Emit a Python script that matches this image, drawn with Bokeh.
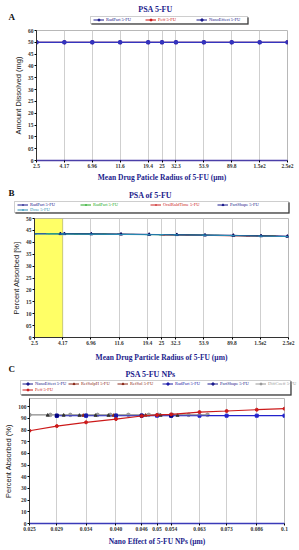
from bokeh.plotting import figure
from bokeh.layouts import column, row
from bokeh.models import Legend, LegendItem, FixedTicker, BoxAnnotation, Label, Range1d
from bokeh.embed import file_html
from bokeh.resources import INLINE

# ---------------- data ----------------
# Panel A
a_x = [2.5, 4.17, 6.96, 11.6, 19.4, 25, 32.3, 53.9, 89.8, 150, 250]
a_x_labels = ["2.5", "4.17", "6.96", "11.6", "19.4", "25", "32.3", "53.9", "89.8", "1.5e2", "2.5e2"]
a_radpart = [50, 50, 50, 50, 50, 50, 50, 50, 50, 50, 50]
a_peff = [50, 50, 50, 50, 50, 50, 50, 50, 50, 50, 50]
a_nano = [50, 50, 50, 50, 50, 50, 50, 50, 50, 50, 50]
a_y_ticks = [0, 5, 10, 15, 20, 25, 30, 35, 40, 45, 50, 55]
a_y_labels = ["0", "05", "10", "15", "20", "25", "30", "35", "40", "45", "50", "60"]
a_series = ["RadPart 5-FU", "Peff 5-FU", "NanoEffect 5-FU"]

# Panel B
b_x_ticks = [2.5, 4.17, 6.96, 11.6, 19.4, 25, 32.3, 53.9, 89.8, 150, 250]
b_x_labels = ["2.5", "4.17", "6.96", "11.6", "19.4", "25", "32.3", "53.9", "89.8", "1.5e2", "2.5e2"]
b_radpart_x = [2.5, 4.17, 6.96, 11.6, 19.4, 25, 32.3, 53.9, 89.8, 150, 250]
b_radpart_y = [43.6, 43.6, 43.5, 43.4, 43.3, 43.2, 43.2, 43.0, 42.9, 42.7, 42.5]
b_radpart2_x = [3.2, 5.3, 8.9, 14.8, 24.7, 41.2, 68.7, 115, 191]
b_radpart2_y = [43.6, 43.5, 43.4, 43.3, 43.2, 43.1, 42.9, 42.8, 42.6]
b_oral_x = [25.7, 39.9, 57.6, 120, 144, 200]
b_oral_y = [43.1, 43.0, 42.9, 42.6, 42.6, 42.5]
b_shape_x = [4.0, 4.3, 7.0, 12.0, 20.0, 33.0, 55.0, 92.0, 152.0, 245.0]
b_shape_y = [43.6, 43.6, 43.5, 43.4, 43.3, 43.2, 43.0, 42.9, 42.7, 42.5]
b_dose_x = [2.5, 4.17, 6.96, 11.6, 19.4, 25, 32.3, 53.9, 89.8, 150, 250]
b_dose_y = [43.5, 43.5, 43.4, 43.3, 43.2, 43.2, 43.1, 43.0, 42.8, 42.6, 42.4]
b_y_ticks = [0, 5, 10, 15, 20, 25, 30, 35, 40, 45, 50]
b_y_labels = ["0", "05", "10", "15", "20", "25", "30", "35", "40", "45", "50"]
b_band = [2.5, 4.17]
b_series = ["RadPart 5-FU", "RadPart 5-FU", "OralRaldTime 5-FU", "PartShape 5-FU", "Dose 5-FU"]

# Panel C
c_x_ticks = [0.025, 0.029, 0.034, 0.040, 0.046, 0.05, 0.054, 0.063, 0.073, 0.086, 0.1]
c_x_labels = ["0.025", "0.029", "0.034", "0.040", "0.046", "0.05", "0.054", "0.063", "0.073", "0.086", "0.1"]
c_peff_x = [0.025, 0.029, 0.034, 0.040, 0.046, 0.05, 0.054, 0.063, 0.073, 0.086, 0.1]
c_peff_y = [79.4, 83.4, 86.6, 89.4, 92.0, 92.9, 93.4, 95.4, 96.3, 97.4, 98.3]
c_nano_x = [0.029, 0.034, 0.040, 0.046, 0.05, 0.054, 0.063, 0.073, 0.086, 0.1]
c_nano_y = [92.3, 92.3, 92.3, 92.3, 92.3, 92.3, 92.3, 92.3, 92.3, 92.3]
c_diff_x = [0.025, 0.0280, 0.0312, 0.0362, 0.0388, 0.0428, 0.0478, 0.0504, 0.0544, 0.0594, 0.0658]
c_diff_y = [93.0, 93.0, 93.0, 93.0, 93.0, 93.0, 93.0, 93.0, 93.0, 93.0, 93.0]
c_refsolph_x = [0.0276, 0.0301, 0.0328, 0.0358, 0.0384, 0.0510, 0.0559]
c_refsolph_y = [92.6, 92.6, 92.5, 92.5, 92.5, 92.6, 92.5]
c_refsol_x = [0.0335, 0.0395, 0.0470]
c_refsol_y = [92.5, 92.5, 92.6]
c_radpart_x = [0.034, 0.040, 0.054]
c_radpart_y = [92.4, 92.4, 92.4]
c_shape_x = [0.029, 0.046, 0.054]
c_shape_y = [92.3, 92.4, 92.4]
c_y_ticks = [0, 10, 20, 30, 40, 50, 60, 70, 80, 90, 100]
c_y_labels = ["0", "10", "20", "30", "40", "50", "60", "70", "80", "90", "100"]
c_series = ["NanoEffect 5-FU", "RefSolpH 5-FU", "RefSol 5-FU", "RadPart 5-FU",
            "PartShape 5-FU", "DiffCoeff 5-FU", "Peff 5-FU"]

NAVY_T = "#1c1c8c"
SERIF = "Liberation Serif"
SANS = "Liberation Sans"
W = 299


def make_fig(xr, yr, fw, fh, left, right, top, bottom, title_standoff=2):
    p = figure(x_axis_type="log", x_range=Range1d(*xr), y_range=Range1d(*yr),
               frame_width=fw, frame_height=fh, output_backend="svg",
               toolbar_location=None, min_border_left=left, min_border_right=right,
               min_border_top=top, min_border_bottom=bottom)
    p.xgrid.grid_line_color = "#cfcfcf"
    p.ygrid.grid_line_color = None
    p.outline_line_color = "#b8b8b8"
    for ax in (p.xaxis[0], p.yaxis[0]):
        ax.major_label_text_font = SERIF
        ax.major_label_text_font_size = "5.5px"
        ax.major_label_text_font_style = "bold"
        ax.major_label_text_color = "#333333"
        ax.major_tick_in = 0
        ax.major_tick_out = 2
        ax.minor_tick_in = 0
        ax.minor_tick_out = 0
        ax.major_label_standoff = 1
        ax.axis_label_standoff = 2
        ax.axis_line_color = "#333333"
    p.xaxis.axis_label_standoff = title_standoff
    p.xaxis.axis_label_text_font = SERIF
    p.xaxis.axis_label_text_font_style = "bold"
    p.xaxis.axis_label_text_color = NAVY_T
    p.xaxis.axis_label_text_font_size = "7.5px"
    p.yaxis.axis_label_text_font = SANS
    p.yaxis.axis_label_text_font_style = "normal"
    p.yaxis.axis_label_text_font_size = "7.5px"
    p.yaxis.axis_label_text_color = "#222222"
    return p


def series(p, x, y, color, marker, lw=1.0, size=3.0):
    r1 = p.line(x, y, line_color=color, line_width=lw)
    r2 = p.scatter(x, y, marker=marker, size=size, fill_color=color, line_color=color)
    return [r1, r2]


def header(h, letter, letter_y, title, title_x, title_y, box, items):
    """items: list of (label, color, marker, x, y_center_from_top, xs, ys)."""
    p = figure(frame_width=W, frame_height=h, x_range=Range1d(0, W), y_range=Range1d(0, h),
               output_backend="svg", toolbar_location=None,
               x_axis_location=None, y_axis_location=None,
               min_border_left=0, min_border_right=0, min_border_top=0, min_border_bottom=0)
    p.grid.visible = False
    p.outline_line_color = None
    p.add_layout(Label(x=8, y=h - letter_y, text=letter, text_font=SERIF,
                       text_font_style="bold", text_font_size="9px",
                       text_baseline="bottom", text_color="#111111"))
    p.add_layout(Label(x=title_x, y=h - title_y, text=title, text_align="center",
                       text_baseline="middle", text_font=SERIF, text_font_style="bold",
                       text_font_size="8px", text_color=NAVY_T))
    x0, x1, y0, y1 = box
    p.add_layout(BoxAnnotation(left=x0 + 1, right=x1 + 1, top=h - y0 - 1, bottom=h - y1 - 1,
                               fill_color="#222222", fill_alpha=1, line_color="#222222",
                               line_width=0.5))
    p.add_layout(BoxAnnotation(left=x0, right=x1, top=h - y0, bottom=h - y1,
                               fill_color="white", fill_alpha=1, line_color="#333333",
                               line_width=0.8))
    for label, color, marker, x, yc, xs, ys in items:
        rl = p.line(x=xs[:1], y=ys[:1], line_color=color, line_width=1, visible=False)
        rs = p.scatter(x=xs[:1], y=ys[:1], marker=marker, size=3, fill_color=color,
                       line_color=color, visible=False)
        lg = Legend(items=[LegendItem(label=label, renderers=[rl, rs])],
                    location=(x, h - yc - 2.5), label_text_font=SERIF,
                    label_text_font_size="4.5px", label_text_color=color,
                    label_height=5, label_standoff=2, glyph_height=5, glyph_width=11,
                    padding=0, margin=0, spacing=0, border_line_color=None,
                    background_fill_alpha=0)
        p.add_layout(lg, "center")
    return p


# ---------------- Panel A ----------------
hA = header(28, "A", 21, "PSA 5-FU", 155, 9, (90, 247, 16, 23),
            [(a_series[0], "#1a1a8c", "circle", 93, 19.5, a_x, a_radpart),
             (a_series[1], "#cc1111", "circle", 145, 19.5, a_x, a_peff),
             (a_series[2], "#1a1a8c", "square", 196, 19.5, a_x, a_nano)])
pA = make_fig((2.5, 250), (0, 55), 251, 130, 36, 12, 2, 16)
series(pA, a_x, a_peff, "#cc1111", "circle")
series(pA, a_x, a_radpart, "#000080", "circle")
series(pA, a_x, a_nano, "#3535c0", "square", lw=1.2)
pA.xaxis.ticker = FixedTicker(ticks=a_x, minor_ticks=[])
pA.xaxis.major_label_overrides = dict(zip(a_x, a_x_labels))
pA.yaxis.ticker = FixedTicker(ticks=a_y_ticks, minor_ticks=[])
pA.yaxis.major_label_overrides = dict(zip(a_y_ticks, a_y_labels))
pA.xaxis.axis_label = "Mean Drug Paticle Radius of 5-FU (µm)"
pA.yaxis.axis_label = "Amount Dissolved (mg)"
pA.xaxis.axis_line_color = "#4b3fa8"
pA.xaxis.axis_line_width = 1.5

# ---------------- Panel B ----------------
hB = header(31, "B", 13, "PSA of 5-FU", 150, 11, (14, 288, 17, 28),
            [(b_series[0], "#1a1a8c", "dash", 17, 20, b_radpart_x, b_radpart_y),
             (b_series[1], "#22aa22", "dash", 80, 20, b_radpart2_x, b_radpart2_y),
             (b_series[2], "#cc2222", "dash", 150, 20, b_oral_x, b_oral_y),
             (b_series[3], "#1a1a8c", "triangle", 217, 20, b_shape_x, b_shape_y),
             (b_series[4], "#2a8fb8", "dash", 17, 25.5, b_dose_x, b_dose_y)])
pB = make_fig((2.5, 250), (0, 50), 254, 119, 34, 11, 3, 26, title_standoff=5)
pB.add_layout(BoxAnnotation(left=b_band[0], right=b_band[1], fill_color="#ffff66",
                            fill_alpha=1.0, line_color="#444444", line_width=0.8,
                            level="underlay"))
series(pB, b_radpart_x, b_radpart_y, "#000080", "dash", size=4)
series(pB, b_radpart2_x, b_radpart2_y, "#33cc33", "dash", size=4)
series(pB, b_oral_x, b_oral_y, "#cc2222", "dash", size=4)
series(pB, b_shape_x, b_shape_y, "#0a0a60", "triangle", size=3)
series(pB, b_dose_x, b_dose_y, "#2a8fb8", "dash", size=4)
pB.xaxis.ticker = FixedTicker(ticks=b_x_ticks, minor_ticks=[])
pB.xaxis.major_label_overrides = dict(zip(b_x_ticks, b_x_labels))
pB.yaxis.ticker = FixedTicker(ticks=b_y_ticks, minor_ticks=[])
pB.yaxis.major_label_overrides = dict(zip(b_y_ticks, b_y_labels))
pB.xaxis.axis_label = "Mean Drug Particle Radius of 5-FU (µm)"
pB.yaxis.axis_label = "Percent Absorbed [%]"

# ---------------- Panel C ----------------
hC = header(32, "C", 9, "PSA 5-FU NPs", 150, 10, (20, 290, 16, 30),
            [(c_series[0], "#1a1a8c", "square", 22, 19, c_nano_x, c_nano_y),
             (c_series[1], "#8b2a1a", "triangle", 68, 19, c_refsolph_x, c_refsolph_y),
             (c_series[2], "#8b2a1a", "triangle", 117, 19, c_refsol_x, c_refsol_y),
             (c_series[3], "#1a1aa8", "square", 162, 19, c_radpart_x, c_radpart_y),
             (c_series[4], "#1a1a8c", "square", 207, 19, c_shape_x, c_shape_y),
             (c_series[5], "#999999", "circle_x", 255, 19, c_diff_x, c_diff_y),
             (c_series[6], "#cc1a1a", "circle", 22, 25.5, c_peff_x, c_peff_y)])
pC = make_fig((0.025, 0.1), (0, 107), 255, 125, 29, 15, 2, 22, title_standoff=3)
series(pC, c_diff_x, c_diff_y, "#999999", "circle_x", size=3.5)
series(pC, c_nano_x, c_nano_y, "#2222cc", "square", lw=1.2, size=3)
pC.line(c_diff_x, c_diff_y, line_color="#999999", line_width=1)
pC.scatter(c_refsolph_x, c_refsolph_y, marker="triangle", size=3, fill_color="#333333", line_color="#333333")
pC.scatter(c_refsol_x, c_refsol_y, marker="triangle", size=3, fill_color="#8b2a1a", line_color="#8b2a1a")
pC.scatter(c_radpart_x, c_radpart_y, marker="square", size=3, fill_color="#1a1aa8", line_color="#1a1aa8")
pC.scatter(c_shape_x, c_shape_y, marker="square", size=3, fill_color="#000080", line_color="#000080")
series(pC, c_peff_x, c_peff_y, "#cc1a1a", "circle", lw=1.2, size=3)
pC.xaxis.ticker = FixedTicker(ticks=c_x_ticks, minor_ticks=[])
pC.xaxis.major_label_overrides = dict(zip(c_x_ticks, c_x_labels))
pC.yaxis.ticker = FixedTicker(ticks=c_y_ticks, minor_ticks=[])
pC.yaxis.major_label_overrides = dict(zip(c_y_ticks, c_y_labels))
pC.xaxis.axis_label = "Nano Effect of 5-FU NPs (µm)"
pC.yaxis.axis_label = "Percent Absorbed (%)"
pC.xaxis.axis_line_color = "#3a3ab8"
pC.xaxis.axis_line_width = 1.5

layout = column(row(hA), row(pA), row(hB), row(pB), row(hC), row(pC), spacing=0)
open("out.html", "w").write(file_html(layout, INLINE))
